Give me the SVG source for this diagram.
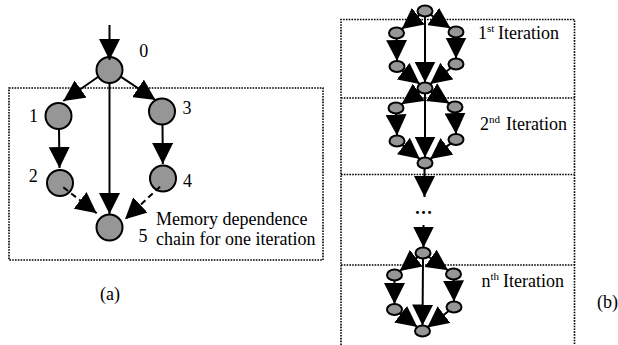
<svg xmlns="http://www.w3.org/2000/svg" width="618" height="345" viewBox="0 0 618 345">
<style>
.bg{fill:#fff}
.nd{fill:#969696;stroke:#000;stroke-width:2}
.e{stroke:#000;stroke-width:2;fill:none;marker-end:url(#ah)}
.d{stroke-dasharray:6 4}
.box{fill:none;stroke:#000;stroke-width:1.6;stroke-dasharray:1.6 1.2}
.t{font-family:"Liberation Serif","Times New Roman",serif;font-size:18px;fill:#000}
.m{text-anchor:middle}
.sup{font-size:11px}
</style>
<defs>
<marker id="ah" markerUnits="userSpaceOnUse" markerWidth="21" markerHeight="21" viewBox="0 0 21 21" refX="21" refY="10.5" orient="auto">
<path d="M0,0 L21,10.5 L0,21 z" fill="#000"/>
</marker>
</defs>
<rect class="bg" x="0" y="0" width="618" height="345"/>

<g id="boxes">
<rect class="box" x="9" y="88" width="314" height="172"/>
<path class="box" d="M341,345 V19.5 H574.5 V345 M341,98 H574.5 M341,174.5 H574.5 M341,265 H574.5"/>
</g>

<g id="a0"><circle class="nd" cx="109.5" cy="70" r="13"/><text class="t m" x="143.8" y="57">0</text></g>
<g id="a1"><circle class="nd" cx="58.5" cy="116" r="13"/><text class="t m" x="33.5" y="122">1</text></g>
<g id="a2"><circle class="nd" cx="60" cy="183" r="13"/><text class="t m" x="33.3" y="182">2</text></g>
<g id="a3"><circle class="nd" cx="162" cy="111.5" r="13"/><text class="t m" x="187" y="114">3</text></g>
<g id="a4"><circle class="nd" cx="163" cy="178.5" r="13"/><text class="t m" x="187.5" y="187">4</text></g>
<g id="a5"><circle class="nd" cx="109.5" cy="227.5" r="13"/><text class="t m" x="143" y="242">5</text></g>

<g id="b1-0"><ellipse class="nd" cx="425" cy="11" rx="7.5" ry="5.5"/></g>
<g id="b1-1"><ellipse class="nd" cx="396.5" cy="33" rx="7.5" ry="5.5"/></g>
<g id="b1-3"><ellipse class="nd" cx="456" cy="32" rx="7.5" ry="5.5"/></g>
<g id="b1-2"><ellipse class="nd" cx="397" cy="66.5" rx="7.5" ry="5.5"/></g>
<g id="b1-4"><ellipse class="nd" cx="456" cy="64" rx="7.5" ry="5.5"/></g>
<g id="b1-5"><ellipse class="nd" cx="425" cy="88" rx="7.5" ry="5.5"/></g>
<g id="b2-1"><ellipse class="nd" cx="396" cy="108" rx="7.5" ry="5.5"/></g>
<g id="b2-3"><ellipse class="nd" cx="455" cy="107" rx="7.5" ry="5.5"/></g>
<g id="b2-2"><ellipse class="nd" cx="397" cy="141" rx="7.5" ry="5.5"/></g>
<g id="b2-4"><ellipse class="nd" cx="456" cy="139.5" rx="7.5" ry="5.5"/></g>
<g id="b2-5"><ellipse class="nd" cx="425" cy="163" rx="7.5" ry="5.5"/></g>
<g id="bn-0"><ellipse class="nd" cx="423" cy="253" rx="7.5" ry="5.5"/></g>
<g id="bn-1"><ellipse class="nd" cx="394.5" cy="275" rx="7.5" ry="5.5"/></g>
<g id="bn-3"><ellipse class="nd" cx="453.5" cy="274" rx="7.5" ry="5.5"/></g>
<g id="bn-2"><ellipse class="nd" cx="394.5" cy="309.5" rx="7.5" ry="5.5"/></g>
<g id="bn-4"><ellipse class="nd" cx="454" cy="307" rx="7.5" ry="5.5"/></g>
<g id="bn-5"><ellipse class="nd" cx="422.5" cy="331" rx="7.5" ry="5.5"/></g>

<g id="connectors">
<line class="e" x1="109.5" y1="25" x2="109.5" y2="60"/>
<line class="e" x1="98.3" y1="76.7" x2="63.3" y2="101"/>
<line class="e" x1="120.7" y1="76.7" x2="155.5" y2="100"/>
<line class="e" x1="109.5" y1="83" x2="109.5" y2="214"/>
<line class="e" x1="59" y1="129" x2="59.5" y2="168"/>
<line class="e" x1="162.5" y1="124.5" x2="162.8" y2="164"/>
<line class="e d" x1="63.3" y1="187.3" x2="96.7" y2="213.3"/>
<line class="e d" x1="160" y1="186.7" x2="125" y2="219.3"/>

<line class="e" x1="419.8" y1="15" x2="401.7" y2="29"/>
<line class="e" x1="430.5" y1="14.7" x2="450.5" y2="28.3"/>
<line class="e" x1="425" y1="16.5" x2="425" y2="82.5"/>
<line class="e" x1="396.6" y1="38.5" x2="397" y2="61"/>
<line class="e" x1="456" y1="37.5" x2="456" y2="58.5"/>
<line class="e" x1="402.2" y1="70.5" x2="419.8" y2="84"/>
<line class="e" x1="450.8" y1="68" x2="430.2" y2="84"/>

<line class="e" x1="419.5" y1="91.8" x2="401.5" y2="104.2"/>
<line class="e" x1="430.7" y1="91.6" x2="449.3" y2="103.4"/>
<line class="e" x1="425" y1="93.5" x2="425" y2="157.5"/>
<line class="e" x1="396" y1="113.5" x2="397" y2="135.5"/>
<line class="e" x1="455" y1="112.5" x2="456" y2="134"/>
<line class="e" x1="402.1" y1="145" x2="419.9" y2="159"/>
<line class="e" x1="450.8" y1="143.4" x2="430.2" y2="159.1"/>
<line class="e" x1="424.5" y1="168.5" x2="424.5" y2="197"/>

<line class="e" x1="423.5" y1="225" x2="423.5" y2="247.5"/>
<line class="e" x1="417.8" y1="257" x2="399.7" y2="271"/>
<line class="e" x1="428.5" y1="256.8" x2="448" y2="270.2"/>
<line class="e" x1="423" y1="258.5" x2="422.5" y2="325.5"/>
<line class="e" x1="394.5" y1="280.5" x2="394.5" y2="304"/>
<line class="e" x1="453.5" y1="279.5" x2="454" y2="301.5"/>
<line class="e" x1="399.7" y1="313.5" x2="417.3" y2="327"/>
<line class="e" x1="448.8" y1="311" x2="427.3" y2="327.4"/>
</g>

<g id="labels">
<text class="t" x="156" y="225">Memory dependence</text>
<text class="t" x="156" y="245">chain for one iteration</text>
<text class="t" x="100" y="300">(a)</text>
<text class="t m" x="423.5" y="214" font-weight="bold">…</text>
<text class="t" x="478" y="39.3">1<tspan class="sup" dy="-7">st</tspan><tspan x="498" dy="7">Iteration</tspan></text>
<text class="t" x="480" y="130">2<tspan class="sup" dy="-7">nd</tspan><tspan x="506" dy="7">Iteration</tspan></text>
<text class="t" x="481.5" y="286.7">n<tspan class="sup" dy="-7">th</tspan><tspan x="503" dy="7">Iteration</tspan></text>
<text class="t" x="597" y="308">(b)</text>
</g>
</svg>
